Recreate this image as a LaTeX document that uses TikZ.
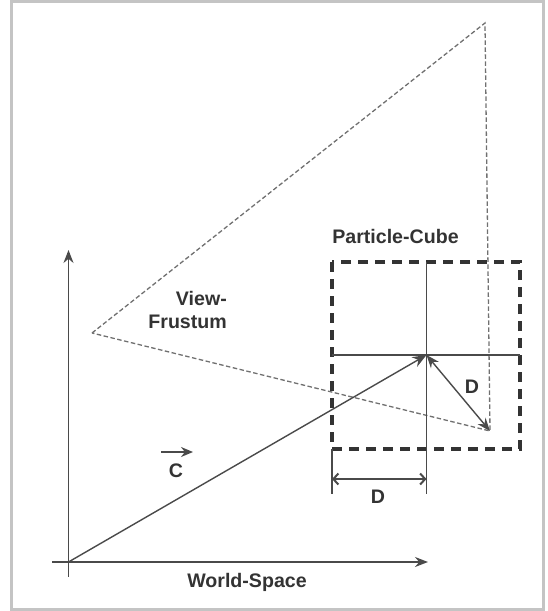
\documentclass[tikz,border=0pt]{standalone}
\usepackage{fontspec}
\setmainfont{Liberation Sans}
\usetikzlibrary{arrows.meta}
\definecolor{frm}{HTML}{C4C4C4}
\definecolor{ln}{HTML}{4A4A4A}
\definecolor{txt}{HTML}{333333}
\definecolor{fru}{HTML}{707070}
\definecolor{bx}{HTML}{333333}
\begin{document}
\begin{tikzpicture}[x=1pt,y=-1pt,
  lbl/.style={font=\bfseries\fontsize{19.6}{23}\selectfont, text=txt, inner sep=0pt, anchor=base},
  thinln/.style={draw=ln, line width=1.4pt},
  axisarrow/.style={draw=ln, line width=1.6pt, -{Stealth[length=13pt,width=10pt]}},
  vecarrow/.style={draw=ln, line width=1.4pt, -{Stealth[length=14pt,width=11pt]}},
  dblarrow/.style={draw=ln, line width=1.4pt, {Stealth[length=13pt,width=10pt]}-{Stealth[length=13pt,width=10pt]}},
  dimarrow/.style={draw=ln, line width=1.4pt, {Straight Barb[length=5pt,width=11pt,line width=2pt]}-{Straight Barb[length=5pt,width=11pt,line width=2pt]}},
  frustum/.style={draw=fru, line width=1.3pt, dash pattern=on 4.5pt off 2.5pt},
  cubebox/.style={draw=bx, line width=3.2pt, dash pattern=on 10pt off 7pt}]
\useasboundingbox (0,0) rectangle (547,611);
% frame
\draw[frm, line width=2.6pt] (11.5,1.5) rectangle (543.5,609.5);

% coordinates
\coordinate (O) at (68.5,562);
\coordinate (yTop) at (68.5,250);
\coordinate (yBot) at (68.5,577);
\coordinate (xLeft) at (52,562);
\coordinate (xRight) at (428,562);
\coordinate (apex) at (92,333);
\coordinate (fTR) at (485,23);
\coordinate (fBR) at (490,431);
\coordinate (P) at (426.5,355);
\coordinate (vTop) at (426.5,262);
\coordinate (vBot) at (426.5,494);
\coordinate (hL) at (332,355);
\coordinate (hR) at (520,355);
\coordinate (eTop) at (332,449);
\coordinate (eBot) at (332,494);
\coordinate (dL) at (332,479);
\coordinate (dR) at (426.5,479);
\coordinate (cA) at (161,452);
\coordinate (cB) at (193,452);

% frustum
\draw[frustum] (apex) -- (fTR) -- (fBR) -- cycle;

% particle cube
\draw[cubebox] (332,262) rectangle (520,449);
\draw[thinln] (vTop) -- (vBot);
\draw[thinln] (hL) -- (hR);
\draw[thinln] (eTop) -- (eBot);

% axes
\draw[thinln, line width=1.6pt] (O) -- (yBot);
\draw[axisarrow] (O) -- (yTop);
\draw[axisarrow] (xLeft) -- (xRight);

% vectors
\draw[vecarrow] (O) -- (P);
\draw[dblarrow] (P) -- (fBR);
\draw[dimarrow] (dL) -- (dR);
\draw[draw=ln, line width=1.6pt, -{Stealth[length=12pt,width=10pt]}] (cA) -- (cB);

% labels
\node[lbl] (ws) at (247,587) {World-Space};
\node[lbl] (pc) at (395.5,243) {Particle-Cube};
\node[lbl, anchor=base east] (vw) at (227,305) {View-};
\node[lbl, anchor=base east] (fr) at (227,328) {Frustum};
\node[lbl] (cl) at (176,477) {C};
\node[lbl] (d1) at (378,503) {D};
\node[lbl] (d2) at (472,393) {D};
\end{tikzpicture}
\end{document}
